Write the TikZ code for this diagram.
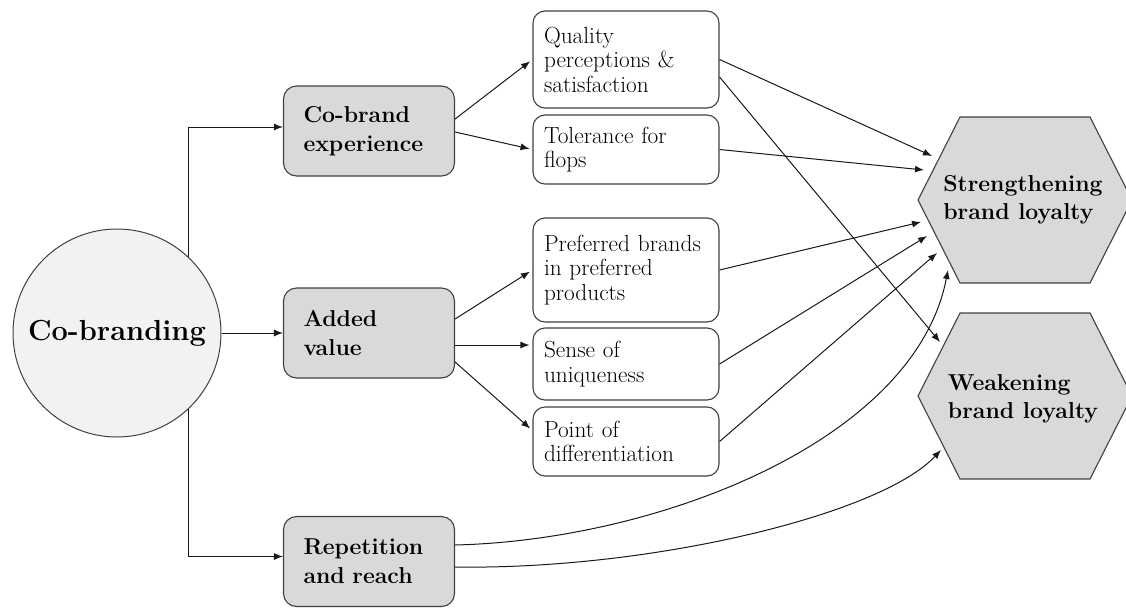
\documentclass[tikz,border=0pt]{standalone}
\usetikzlibrary{arrows.meta,calc}
\definecolor{boxgray}{HTML}{D9D9D9}
\definecolor{circfill}{HTML}{F2F2F2}
\definecolor{edgegray}{HTML}{404040}
\begin{document}
\begin{tikzpicture}[x=1pt,y=-1pt,
  conn/.style={draw=black!90, line width=1pt, -{Latex[length=9pt,width=7pt]}},
  circ/.style={circle, draw=edgegray, line width=1pt, fill=circfill, minimum size=208pt, inner sep=0pt,
    font=\fontsize{29}{34}\selectfont\bfseries},
  graybox/.style={draw=edgegray, line width=1.1pt, fill=boxgray, rounded corners=13pt,
    minimum height=90pt, text width=131pt, inner xsep=20pt, align=left,
    font=\fontsize{23}{29}\selectfont\bfseries},
  whitebox/.style={draw=edgegray, line width=1.1pt, fill=white, rounded corners=12pt,
    text width=164pt, inner xsep=11pt, align=left,
    font=\fontsize{23.3}{24.5}\selectfont},
  hexfill/.style={draw=edgegray, line width=1.1pt, fill=boxgray},
  hextext/.style={align=left, inner sep=0pt, font=\fontsize{23}{28}\selectfont\bfseries}
]
\useasboundingbox (0,0) rectangle (1126,608);

% source circle
\node[circ] (cob) at (117,333) {Co-branding};

% mechanisms
\node[graybox] (cbexp) at (369,131) {Co-brand\\experience};
\node[graybox] (added) at (369,333) {Added\\value};
\node[graybox] (rep) at (369,561.5) {Repetition\\and reach};

% effects
\node[whitebox, minimum height=97pt] (qual) at (626,59.5) {Quality\\perceptions \&\\satisfaction};
\node[whitebox, minimum height=69pt] (tol) at (626,149.5) {Tolerance for\\flops};
\node[whitebox, minimum height=104pt] (pref) at (626,270) {Preferred brands\\in preferred\\products};
\node[whitebox, minimum height=72pt] (sense) at (626,364) {Sense of\\uniqueness};
\node[whitebox, minimum height=69pt] (point) at (626,441.5) {Point of\\differentiation};

% outcome hexagons
\draw[hexfill] (918,200) -- (960,117) -- (1090,117) -- (1132,200) -- (1090,283) -- (960,283) -- cycle;
\node[hextext] (strong) at (1023,200) {Strengthening\\brand loyalty};
\draw[hexfill] (918,396) -- (960,313) -- (1090,313) -- (1132,396) -- (1090,479) -- (960,479) -- cycle;
\node[hextext] (weak) at (1023,399) {Weakening\\brand loyalty};

% arrow tips on the hexagon edges
\coordinate (s1) at (932,156);
\coordinate (s2) at (924,170);
\coordinate (s3) at (921,222);
\coordinate (s4) at (927,236);
\coordinate (s5) at (937,253);
\coordinate (s6) at (948,270);
\coordinate (w1) at (940,342);
\coordinate (w2) at (941,450);

% co-branding to mechanisms
\draw[conn] (cob.47.7) |- ($(cbexp.west)+(0,-4)$);
\draw[conn] (cob.east) -- (added.west);
\draw[conn] (cob.-47.7) |- ($(rep.west)+(0,-5)$);

% mechanisms to effects
\draw[conn, shorten >=3pt] ($(cbexp.east)+(0,-12)$) -- (qual.west);
\draw[conn, shorten >=3pt] ($(cbexp.east)+(0,1)$) -- (tol.west);
\draw[conn, shorten >=3pt] ($(added.east)+(0,-14)$) -- (pref.west);
\draw[conn, shorten >=3pt] ($(added.east)+(0,12)$) -- ($(sense.west)+(0,-19)$);
\draw[conn, shorten >=3pt] ($(added.east)+(0,29)$) -- ($(point.west)+(0,-11)$);

% effects to outcomes
\draw[conn] (qual.east) -- (s1);
\draw[conn] (tol.east) -- (s2);
\draw[conn] (pref.east) -- (s3);
\draw[conn] (sense.east) -- (s4);
\draw[conn] (point.east) -- (s5);
\draw[conn] ($(qual.east)+(0,17.5)$) -- (w1);

% repetition and reach to both outcomes
\draw[conn] ($(rep.east)+(0,-16.5)$) .. controls (660,540) and (915,440) .. (s6);
\draw[conn] ($(rep.east)+(0,5.5)$) .. controls (650,570) and (880,515) .. (w2);
\end{tikzpicture}
\end{document}
